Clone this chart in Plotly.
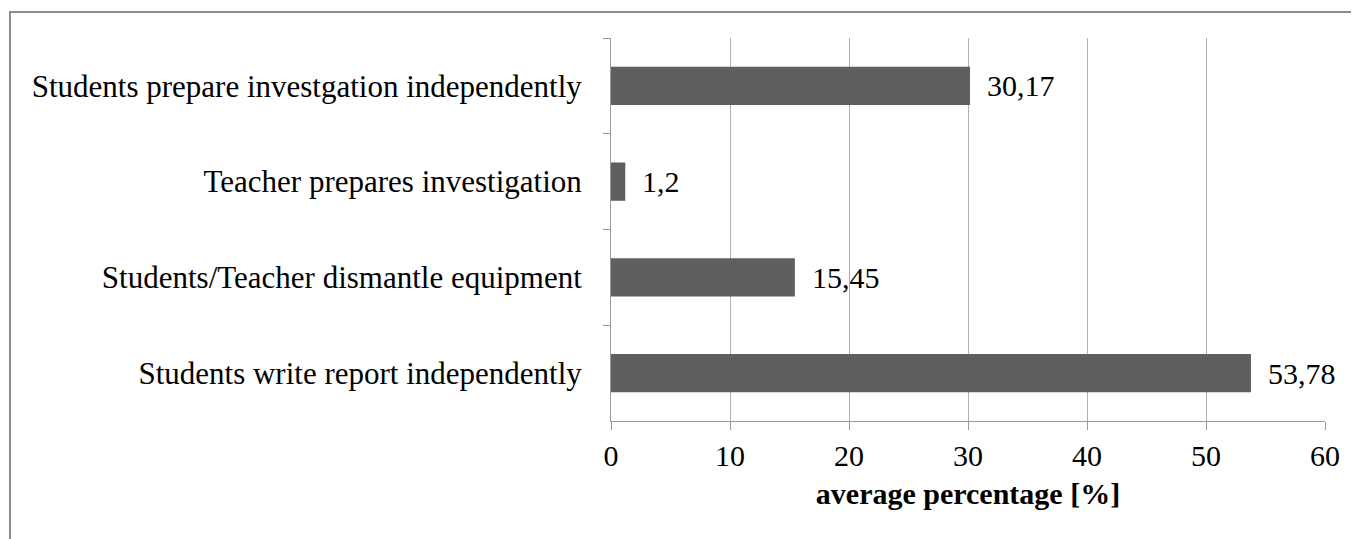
import plotly.graph_objects as go

categories = [
    "Students prepare investgation independently",
    "Teacher prepares investigation",
    "Students/Teacher dismantle equipment",
    "Students write report independently",
]
values = [30.17, 1.2, 15.45, 53.78]
value_labels = ["30,17", "1,2", "15,45", "53,78"]
x_ticks = [0, 10, 20, 30, 40, 50, 60]

OFF = 8  # page body margin
W, H = 1359 - OFF, 539 - OFF
L, T = 611 - OFF, 38 - OFF
R = W - (1325 - OFF)
B = H - (421 - OFF)
pw, ph = W - L - R, H - T - B

FONT = "Liberation Serif, Times New Roman, serif"

fig = go.Figure(go.Bar(
    x=values, y=categories, orientation="h",
    marker=dict(color="#5f5f5f", line=dict(width=0)),
    hoverinfo="x+y",
))

annotations = [
    dict(x=v, y=c, xref="x", yref="y", text=t, showarrow=False,
         xanchor="left", yanchor="middle", xshift=15,
         font=dict(family=FONT, size=30, color="#000"))
    for v, c, t in zip(values, categories, value_labels)
]

fig.update_layout(
    width=W, height=H,
    margin=dict(l=L, r=R, t=T, b=B, pad=0),
    paper_bgcolor="white", plot_bgcolor="white",
    bargap=0.6, showlegend=False,
    font=dict(family=FONT, size=30, color="#000"),
    xaxis=dict(
        range=[0, 60], tickvals=x_ticks, ticktext=[str(v) for v in x_ticks],
        showgrid=True, gridcolor="#b0b0b0", gridwidth=1,
        showline=True, linecolor="#9a9a9a", linewidth=1,
        ticks="outside", ticklen=8, tickcolor="#9a9a9a",
        zeroline=False,
        tickfont=dict(family=FONT, size=30),
        title=dict(text="<b>average percentage [%]</b>", font=dict(family=FONT, size=30), standoff=11),
    ),
    yaxis=dict(
        autorange="reversed", type="category",
        showline=True, linecolor="#9a9a9a", linewidth=1,
        ticks="outside", ticklen=7, tickcolor="#9a9a9a", tickson="boundaries",
        showgrid=False, ticklabelstandoff=22,
        tickfont=dict(family=FONT, size=31),
    ),
    annotations=annotations,
    shapes=[
        dict(type="rect", xref="paper", yref="paper",
             x0=(10 - OFF - L) / pw, x1=(W + 20 - L) / pw,
             y0=(H - B - (H + 20)) / ph, y1=(H - B - (12 - OFF)) / ph,
             line=dict(color="#8c8c8c", width=2), layer="below"),
    ],
)

fig.write_html("out.html")
